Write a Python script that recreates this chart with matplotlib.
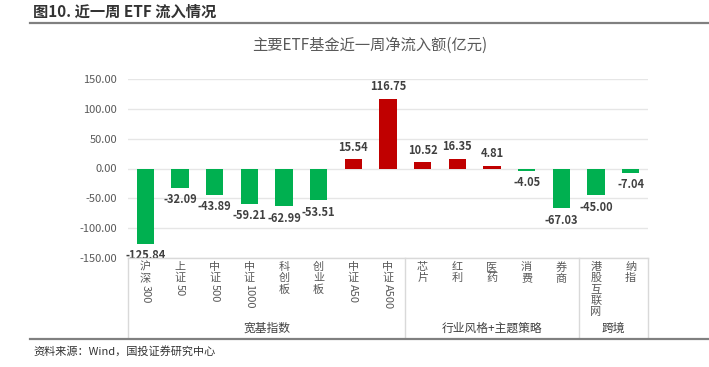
import matplotlib
matplotlib.use("Agg")
import matplotlib.pyplot as plt
from matplotlib.lines import Line2D

plt.rcParams['font.family'] = ['Noto Sans CJK SC', 'DejaVu Sans']

categories = ["沪深300", "上证50", "中证500", "中证1000", "科创板", "创业板", "中证A50", "中证A500",
              "芯片", "红利", "医药", "消费", "券商", "港股互联网", "纳指"]
values = [-125.84, -32.09, -43.89, -59.21, -62.99, -53.51, 15.54, 116.75,
          10.52, 16.35, 4.81, -4.05, -67.03, -45.00, -7.04]
groups = ["宽基指数", "行业风格+主题策略", "跨境"]
group_sizes = [8, 5, 2]
yticks = [-150, -100, -50, 0, 50, 100, 150]

W, H = 709, 367
fig = plt.figure(figsize=(W / 100, H / 100), dpi=100)


def fx(x):
    return x / W


def fy(y):
    return 1 - y / H


# plot area in pixels
x0, x1, y0, y1 = 128, 648, 79, 258
ax = fig.add_axes([fx(x0), fy(y1), fx(x1 - x0), (y1 - y0) / H])

n = len(categories)
colors = ["#C00000" if v > 0 else "#00B050" for v in values]
ax.bar(range(n), values, width=0.5, color=colors, zorder=3)
ax.set_xlim(-0.5, n - 0.5)
ax.set_ylim(-150, 150)
ax.set_yticks(yticks)
ax.set_yticklabels(["%.2f" % t for t in yticks], fontsize=8, color="#595959")
ax.tick_params(axis="y", length=0, pad=8)
ax.set_xticks([])
ax.grid(axis="y", color="#E6E6E6", linewidth=1, zorder=0)
for s in ax.spines.values():
    s.set_visible(False)

for i, v in enumerate(values):
    off = 4 if v > 0 else -4
    ax.annotate("%.2f" % v, (i, v), xytext=(0, off), textcoords="offset points",
                ha="center", va="bottom" if v > 0 else "top",
                fontsize=8, fontweight="bold", color="#404040")

# category area (box under the plot)
box_bottom = 337
line_col = "#D9D9D9"
slot = (x1 - x0) / n
fig.add_artist(Line2D([fx(x0), fx(x1)], [fy(y1), fy(y1)], color=line_col, lw=1))
bounds = [0]
for g in group_sizes:
    bounds.append(bounds[-1] + g)
for b in bounds:
    xb = x0 + b * slot
    fig.add_artist(Line2D([fx(xb), fx(xb)], [fy(y1), fy(box_bottom)], color=line_col, lw=1))

renderer = fig.canvas.get_renderer()


def tokens(label):
    out, buf = [], ""
    for ch in label:
        if ord(ch) < 128:
            buf += ch
        else:
            if buf:
                out.append(buf)
                buf = ""
            out.append(ch)
    if buf:
        out.append(buf)
    return out


for i, lab in enumerate(categories):
    xc = x0 + (i + 0.5) * slot
    y = 262
    for tok in tokens(lab):
        if ord(tok[0]) < 128:
            t = fig.text(fx(xc), fy(y), tok, rotation=-90, ha="center", va="top",
                         fontsize=8, color="#595959")
        else:
            t = fig.text(fx(xc), fy(y), tok, ha="center", va="top",
                         fontsize=8, color="#595959")
        bb = t.get_window_extent(renderer)
        y += bb.height + 1

for g, a, b in zip(groups, bounds[:-1], bounds[1:]):
    xc = x0 + (a + b) / 2 * slot
    fig.text(fx(xc), fy(328), g, ha="center", va="center", fontsize=8.5, color="#404040")

# header, title, footer
fig.text(fx(33), fy(12), "图10. 近一周 ETF 流入情况", ha="left", va="center",
         fontsize=11, fontweight="bold", color="#333333")
fig.add_artist(Line2D([fx(30), 1], [fy(22.5), fy(22.5)], color="#808080", lw=1.6))
fig.text(fx(370), fy(45), "主要ETF基金近一周净流入额(亿元)", ha="center", va="center",
         fontsize=11, color="#595959")
fig.add_artist(Line2D([fx(30), 1], [fy(338.5), fy(338.5)], color="#808080", lw=1.6))
fig.text(fx(33), fy(351), "资料来源：Wind，国投证券研究中心", ha="left", va="center",
         fontsize=8, style="italic", color="#333333")

fig.savefig("out.png", dpi=100)
